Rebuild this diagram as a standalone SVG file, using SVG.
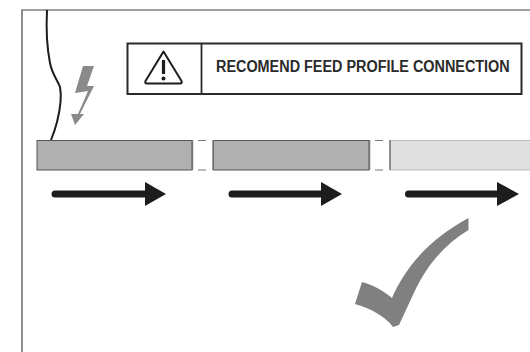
<svg xmlns="http://www.w3.org/2000/svg" width="530" height="352" viewBox="0 0 530 352">
<defs>
<style>
.bar{stroke:#555;stroke-width:1}
.dash{fill:none;stroke:#777;stroke-width:1.200}
.arrow{fill:#1d1d1b}
.shaft{stroke:#1d1d1b;stroke-width:7;stroke-linecap:round}
</style>
</defs>
<rect width="530" height="352" fill="#fff"/>
<g id="frame"><path d="M22 352V10H530" fill="none" stroke="#444" stroke-width="1.200"/></g>
<g id="cable"><path d="M47 10C46 30 47 48 50 63C52 74 57 79 60 87C62 97 60 110 57 122C55 130 53 135 51 140" fill="none" stroke="#1d1d1b" stroke-width="2"/></g>
<g id="lightning"><path d="M83 66H94L87 86L94 86L80 114L84 114L75 125L71 114L78 114L88 91L75 93Z" fill="#8a8a8a"/></g>
<g id="warning">
<rect x="127.500" y="43.500" width="394" height="50.500" fill="#fff" stroke="#2b2b2a" stroke-width="2"/>
<path d="M201.500 43V94" stroke="#2b2b2a" stroke-width="1.800"/>
<path d="M163.500 51.500L181.500 81Q182.500 83.500 180 83.500H147Q144.500 83.500 145.500 81Z" fill="none" stroke="#1d1d1b" stroke-width="2" stroke-linejoin="round"/>
<path d="M163.500 60V74" stroke="#1d1d1b" stroke-width="3.200"/>
<circle cx="163.500" cy="78.500" r="2" fill="#1d1d1b"/>
<text transform="translate(216 72) scale(0.848 1)" font-family="'Liberation Sans',Arial,sans-serif" font-weight="700" font-size="17" fill="#2b2b2a">RECOMEND FEED PROFILE CONNECTION</text>
</g>
<g id="profile1"><rect class="bar" x="37" y="140.500" width="155" height="29.500" fill="#b0b0b0"/></g>
<g id="profile2"><rect class="bar" x="213.500" y="140.500" width="155.500" height="29.500" fill="#b0b0b0"/></g>
<g id="profile3"><path d="M530 140.500H390V170H530" fill="#e0e0e0" stroke="#bbb" stroke-width="1"/></g>
<g id="connectors">
<path class="dash" d="M198 140.500H206M198 170H206"/>
<path class="dash" d="M375 140.500H383M375 170H383"/>
<path d="M192.500 140V170M213 140V170M369.500 140V170M390 140V170" stroke="#777" stroke-width="1.500"/>
<path class="shaft" d="M55 194H148"/>
<path class="arrow" d="M145 182L166 194L145 206Z"/>
<path class="shaft" d="M232 194H324"/>
<path class="arrow" d="M321 182L342 194L321 206Z"/>
<path class="shaft" d="M408.500 194H500"/>
<path class="arrow" d="M497 182L519 194L497 206Z"/>
</g>
<g id="check"><path d="M468.500 218V230C442 246 425 268 412 297L399 325L393 327C386 317 372 309 355 304L362 282C373 285 384 291 392 298C405 268 428 240 468.500 218Z" fill="#808080"/></g>
</svg>
